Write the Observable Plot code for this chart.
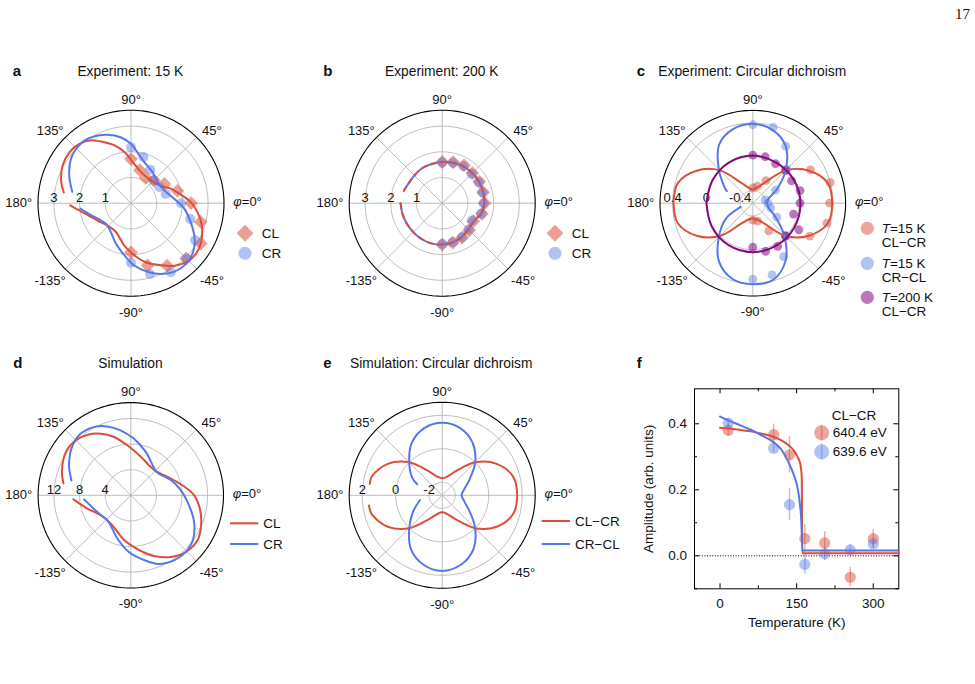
<!DOCTYPE html>
<html><head><meta charset="utf-8">
<script src="https://cdn.jsdelivr.net/npm/d3@7"></script>
<script src="https://cdn.jsdelivr.net/npm/@observablehq/plot@0.6"></script>
<style>
body{margin:0;background:#fff;}
#page{position:relative;width:975px;height:684px;overflow:hidden;background:#fff;}
</style></head>
<body><div id="page"></div>
<script>
// ---------------- colours ----------------
const RED = "#dc4e3a", BLUE = "#5577e8", PURPLE = "#84087f", GRID = "#b5b5b5";
const FONT = '"Liberation Sans", Arial, Helvetica, sans-serif';

// ---------------- panel a : Experiment 15 K ----------------
const angPts = [90,75,60,45,30,15,0,-15,-30,-45,-60,-75,-90];
const aCL = [1.72,1.33,1.14,1.26,1.50,1.87,2.34,2.81,3.14,3.04,2.81,2.51,1.91];
const aCR = [2.18,1.86,1.50,1.25,1.27,1.40,1.95,2.39,2.88,3.06,3.10,2.85,2.32];
const aFitCLAng = [-178,-173,-165,-152,-136,-117,-99,-86,-76,-64,-55,-47,-38,-29,-17,-8,1,8,20,30,49,72,88,97,106,116,122,131,140,151,163,171];
const aFitCLR   = [2.36,2.09,1.75,1.46,1.26,1.27,1.67,2.04,2.37,2.69,2.97,3.14,3.21,3.12,2.88,2.62,2.33,2.03,1.65,1.35,1.18,1.27,1.62,2.00,2.34,2.67,2.89,3.06,3.11,3.04,2.84,2.65];
const aFitCRAng = [-174,-167,-155,-140,-125,-110,-97,-87,-76,-67,-58,-48,-38,-29,-18,-6,6,21,38,55,72,83,90,99,109,116,127,135,144,156,169];
const aFitCRR   = [1.98,1.73,1.43,1.26,1.37,1.69,2.05,2.43,2.76,2.99,3.15,3.19,3.07,2.83,2.45,2.09,1.69,1.39,1.32,1.47,1.68,2.00,2.31,2.60,2.82,2.93,3.04,3.01,2.90,2.63,2.33];

// ---------------- panel b : Experiment 200 K ----------------
const bCL = [1.60,1.65,1.70,1.66,1.67,1.65,1.65,1.60,1.40,1.49,1.55,1.59,1.61];
const bCR = [1.58,1.62,1.66,1.62,1.64,1.62,1.61,1.57,1.34,1.45,1.53,1.57,1.59];
const bFitAng = [-180,-165,-150,-135,-120,-105,-90,-75,-60,-45,-35,-25,-15,0,15,30,45,60,75,90,105,120,135,150,162];
const bFitR   = [1.62,1.60,1.59,1.59,1.61,1.62,1.61,1.58,1.52,1.44,1.41,1.45,1.57,1.64,1.65,1.66,1.66,1.66,1.63,1.60,1.58,1.57,1.53,1.52,1.57];

// ---------------- panel c : Experiment circular dichroism ----------------
const cRedPts  = [-0.37,-0.34,-0.24,0.00,0.24,0.40,0.36,0.36,0.23,0.00,-0.17,-0.33,-0.35];
const cBluePts = [0.38,0.38,0.23,0.02,-0.24,-0.40,-0.37,-0.33,-0.22,0.00,0.18,0.33,0.35];
const cPurpPts = [0.02,0.02,-0.01,0.00,-0.02,0.03,0.01,-0.05,0.08,0.00,0.04,0.04,-0.03];
const cRedFitAng = [-180,-165,-150,-135,-120,-105,-90,-75,-60,-45,-30,-15,0,15,30,45,60,75,90,105,120,135,150,165,180];
const cRedFitR   = [0.39,0.37,0.22,0.00,-0.27,-0.35,-0.37,-0.35,-0.27,0.00,0.22,0.37,0.39,0.37,0.22,0.00,-0.27,-0.36,-0.39,-0.36,-0.27,0.00,0.22,0.37,0.39];
const cBlueFitAng = [-163,-150,-135,-120,-105,-90,-75,-60,-45,-30,-15,0,15,30,45,60,75,90,105,120,135,150,155];
const cBlueFitR   = [-0.40,-0.18,0.02,0.25,0.38,0.41,0.39,0.23,-0.03,-0.25,-0.36,-0.38,-0.36,-0.22,0.00,0.23,0.35,0.39,0.36,0.25,0.02,-0.16,-0.21];
const cPurpFitAng = [-180,-150,-120,-90,-60,-30,0,30,60,90,120,150,180];
const cPurpFitR   = [0.00,0.01,0.025,0.03,0.025,0.02,0.015,0.01,0.005,0.015,0.01,0.00,0.00];

// ---------------- panel d : Simulation ----------------
const dFitCLAng = [-176,-163,-146,-125,-98,-81,-69,-57,-46,-34,-24,-12,0,11,27,44,59,75,94,106,116,126,135,146,161,170];
const dFitCLR   = [8.98,7.08,5.64,5.42,7.10,8.69,10.15,11.48,12.34,12.57,12.0,11.08,9.9,8.2,6.4,5.42,5.49,6.19,7.83,9.48,10.7,11.65,12.15,12.2,11.38,10.68];
const dFitCRAng = [-175,-150,-133,-107,-92,-78,-68,-56,-46,-35,-23,-10,6,21,36,44,52,71,87,99,109,118,129,139,153,166];
const dFitCRR   = [7.32,5.72,5.34,7.09,8.86,10.37,11.56,12.2,12.34,11.9,10.74,9.25,7.85,6.68,5.6,5.42,5.7,7.17,8.87,10.28,11.38,12.1,12.4,12.0,10.83,9.56];

// ---------------- panel e : Simulation circular dichroism ----------------
const eRedAng = [-172,-165,-150,-135,-120,-105,-90,-75,-60,-45,-30,-15,0,15,30,45,60,75,90,105,120,135,150,165,171];
const eRedR   = [1.64,1.58,0.98,0.01,-1.10,-1.62,-1.76,-1.62,-1.10,0.01,0.98,1.60,1.70,1.60,0.98,0.01,-1.10,-1.62,-1.76,-1.62,-1.10,0.01,0.98,1.58,1.60];
const eBlueAng = [-168,-150,-135,-120,-105,-90,-75,-60,-45,-30,-15,0,15,30,45,60,75,90,105,120,135,150,156];
const eBlueR   = [-1.42,-0.75,0.01,0.95,1.52,1.74,1.52,0.95,0.01,-0.90,-1.42,-1.62,-1.42,-0.90,0.01,0.85,1.38,1.56,1.38,0.85,0.01,-0.72,-1.15];

// ---------------- panel f : Temperature dependence ----------------
const fT       = [16,105,136,166,205,255,300];
const fRed     = [0.380,0.367,0.306,0.052,0.039,-0.065,0.052];
const fRedErr  = [0.018,0.032,0.055,0.042,0.034,0.030,0.028];
const fBlue    = [0.402,0.326,0.155,-0.026,0.006,0.018,0.036];
const fBlueErr = [0.013,0.014,0.048,0.030,0.020,0.015,0.015];
const fRedFitT = [0,20,40,60,80,100,110,120,130,140,145,150,153,156,158,160,161,350];
const fRedFit  = [0.388,0.385,0.381,0.377,0.371,0.363,0.357,0.350,0.340,0.327,0.318,0.305,0.296,0.285,0.270,0.238,0.008,0.008];
const fBlueFitT = [0,20,40,60,80,100,110,120,125,130,135,140,145,150,153,155,157,159,160,161,350];
const fBlueFit  = [0.422,0.408,0.395,0.382,0.366,0.349,0.338,0.322,0.310,0.296,0.280,0.263,0.243,0.218,0.195,0.175,0.147,0.110,0.067,0.016,0.016];

// ---------------- helpers ----------------
const W = 975, H = 684;
const page = document.getElementById("page");
const rad = a => a * Math.PI / 180;
const zip = (angs, rs) => angs.map((a, i) => ({a, r: rs[i]}));
function mount(svg) {
  svg.style.position = "absolute"; svg.style.left = "0"; svg.style.top = "0";
  svg.style.background = "transparent"; svg.style.overflow = "visible"; svg.style.maxWidth = "none";
  page.appendChild(svg);
}

function polarPlot({cx, cy, R, rMin, rMax, ticks, tickLabels, layers}) {
  const n = v => (v - rMin) / (rMax - rMin);
  const X = (a, v) => n(v) * Math.cos(rad(a));
  const Y = (a, v) => n(v) * Math.sin(rad(a));
  const grid = ticks.flatMap(t => d3.range(0, 362, 2).map(a => ({t, a})));
  const rim = d3.range(0, 362, 2);
  const spokes = d3.range(0, 360, 45);
  const thetaMid = [{a:45,t:"45°"},{a:90,t:"90°"},{a:135,t:"135°"},{a:-135,t:"-135°"},{a:-90,t:"-90°"},{a:-45,t:"-45°"}];
  return Plot.plot({
    width: W, height: H, margin: 0,
    style: {fontFamily: FONT, fontSize: "13px", color: "#111", background: "transparent"},
    x: {domain: [-1, 1], range: [cx - R, cx + R], axis: null, label: null},
    y: {domain: [-1, 1], range: [cy + R, cy - R], axis: null, label: null},
    marks: [
      Plot.link(spokes, {x1: () => 0, y1: () => 0, x2: a => Math.cos(rad(a)), y2: a => Math.sin(rad(a)), stroke: GRID, strokeWidth: 0.9}),
      Plot.line(grid, {x: d => X(d.a, d.t), y: d => Y(d.a, d.t), z: "t", stroke: GRID, strokeWidth: 0.9}),
      Plot.line(rim, {x: a => Math.cos(rad(a)), y: a => Math.sin(rad(a)), stroke: "#000", strokeWidth: 1.1}),
      Plot.text(ticks, {x: t => -n(t), y: () => 0, text: (t, i) => tickLabels[i], lineAnchor: "bottom", dy: -1, fontSize: 13, fill: "#111"}),
      Plot.text(thetaMid, {x: d => 1.23 * Math.cos(rad(d.a)), y: d => 1.145 * Math.sin(rad(d.a)), text: "t", dy: 2.7, fontSize: 13, fill: "#111"}),
      Plot.text([{t: "φ=0°"}], {x: () => 1.10, y: () => 0, text: "t", textAnchor: "start", dy: -1, fontSize: 13, fill: "#111"}),
      Plot.text([{t: "180°"}], {x: () => -1.063, y: () => 0, text: "t", textAnchor: "end", fontSize: 13, fill: "#111"}),
      ...layers(X, Y)
    ]
  });
}
const fitLine = (data, X, Y, stroke, extra = {}) =>
  Plot.line(data, {x: d => X(d.a, d.r), y: d => Y(d.a, d.r), stroke, strokeWidth: 2, curve: "catmull-rom", ...extra});
const ptDots = (data, X, Y, fill, extra = {}) =>
  Plot.dot(data, {x: d => X(d.a, d.r), y: d => Y(d.a, d.r), fill, fillOpacity: 0.5, stroke: "none", ...extra});

// ---------------- panel a ----------------
mount(polarPlot({cx: 130.5, cy: 202.7, R: 93, rMin: 0, rMax: 3.62, ticks: [1,2,3], tickLabels: ["1","2","3"],
  layers: (X, Y) => [
    ptDots(zip(angPts, aCL), X, Y, RED, {symbol: "diamond2", r: 6.2, fillOpacity: 0.55}),
    ptDots(zip(angPts, aCR), X, Y, BLUE, {r: 5, fillOpacity: 0.45}),
    fitLine(zip(aFitCLAng, aFitCLR), X, Y, RED),
    fitLine(zip(aFitCRAng, aFitCRR), X, Y, BLUE)
  ]}));

// ---------------- panel b ----------------
mount(polarPlot({cx: 441.7, cy: 202.7, R: 93, rMin: 0, rMax: 3.62, ticks: [1,2,3], tickLabels: ["1","2","3"],
  layers: (X, Y) => [
    ptDots(zip(angPts, bCL), X, Y, RED, {symbol: "diamond2", r: 6.2, fillOpacity: 0.55}),
    ptDots(zip(angPts, bCR), X, Y, BLUE, {r: 5, fillOpacity: 0.45}),
    fitLine(zip(bFitAng, bFitR), X, Y, BLUE),
    fitLine(zip(bFitAng, bFitR), X, Y, RED, {strokeDasharray: "5,5"})
  ]}));

// ---------------- panel c ----------------
mount(polarPlot({cx: 752.3, cy: 202.7, R: 92.8, rMin: -0.55, rMax: 0.55, ticks: [-0.4,0,0.4], tickLabels: ["-0.4","0","0.4"],
  layers: (X, Y) => [
    ptDots(zip(angPts, cRedPts), X, Y, RED, {r: 4.4}),
    ptDots(zip(angPts, cBluePts), X, Y, BLUE, {r: 4.4, fillOpacity: 0.45}),
    ptDots(zip(angPts, cPurpPts), X, Y, PURPLE, {r: 4.4, fillOpacity: 0.55}),
    fitLine(zip(cRedFitAng, cRedFitR), X, Y, RED),
    fitLine(zip(cBlueFitAng, cBlueFitR), X, Y, BLUE),
    fitLine(zip(cPurpFitAng, cPurpFitR), X, Y, PURPLE)
  ]}));

// ---------------- panel d ----------------
mount(polarPlot({cx: 130.3, cy: 494.8, R: 92.7, rMin: 0, rMax: 14.48, ticks: [4,8,12], tickLabels: ["4","8","12"],
  layers: (X, Y) => [
    fitLine(zip(dFitCLAng, dFitCLR), X, Y, RED),
    fitLine(zip(dFitCRAng, dFitCRR), X, Y, BLUE)
  ]}));

// ---------------- panel e ----------------
mount(polarPlot({cx: 441.7, cy: 494.8, R: 93, rMin: -2.78, rMax: 2.78, ticks: [-2,0,2], tickLabels: ["-2","0","2"],
  layers: (X, Y) => [
    fitLine(zip(eRedAng, eRedR), X, Y, RED),
    fitLine(zip(eBlueAng, eBlueR), X, Y, BLUE)
  ]}));

// ---------------- panel f ----------------
const fData = fT.map((t, i) => ({t, red: fRed[i], re: fRedErr[i], blue: fBlue[i], be: fBlueErr[i]}));
const fRedLine = fRedFitT.map((t, i) => ({t, v: fRedFit[i]}));
const fBlueLine = fBlueFitT.map((t, i) => ({t, v: fBlueFit[i]}));
const FL = 694, FR = 898.3, FT = 388.3, FB = 588.3, FH = FB - FT, FW = FR - FL;
mount(Plot.plot({
  width: W, height: H,
  marginLeft: FL, marginRight: W - FR, marginTop: FT, marginBottom: H - FB,
  style: {fontFamily: FONT, fontSize: "13.5px", color: "#111", background: "transparent"},
  x: {domain: [-50, 350], axis: null, label: null},
  y: {domain: [-0.1, 0.506], axis: null, label: null},
  marks: [
    Plot.ruleY([0], {stroke: "#000", strokeDasharray: "1,1.6", strokeWidth: 1}),
    Plot.ruleX([0,150,300], {insetTop: FH - 5, stroke: "#000"}),
    Plot.ruleX([75,225], {insetTop: FH - 3, stroke: "#000"}),
    Plot.ruleX([0,150,300], {insetBottom: FH - 5, stroke: "#000"}),
    Plot.ruleX([75,225], {insetBottom: FH - 3, stroke: "#000"}),
    Plot.ruleY([0,0.2,0.4], {insetRight: FW - 5, stroke: "#000"}),
    Plot.ruleY([-0.1,0.1,0.3], {insetRight: FW - 3, stroke: "#000"}),
    Plot.ruleY([0,0.2,0.4], {insetLeft: FW - 5, stroke: "#000"}),
    Plot.ruleY([-0.1,0.1,0.3], {insetLeft: FW - 3, stroke: "#000"}),
    Plot.frame({stroke: "#000", strokeWidth: 1}),
    Plot.axisX({ticks: [0,150,300], tickSize: 0, tickPadding: 10, fontSize: 13.5, tickFormat: d3.format("d"), label: null}),
    Plot.axisY({ticks: [0,0.2,0.4], tickSize: 0, tickPadding: 7.5, fontSize: 13.5, tickFormat: d3.format(".1f"), label: null}),
    Plot.text(["Temperature (K)"], {text: d => d, frameAnchor: "bottom", dy: 33.4, textAnchor: "middle", lineAnchor: "middle", fontSize: 13.5, fill: "#111"}),
    Plot.text(["Amplitude (arb. units)"], {text: d => d, frameAnchor: "left", dx: -45.7, rotate: -90, textAnchor: "middle", lineAnchor: "middle", fontSize: 13.5, fill: "#111"}),
    Plot.ruleX(fData, {x: "t", y1: d => d.red - d.re, y2: d => d.red + d.re, stroke: RED, strokeOpacity: 0.45, strokeWidth: 1.5}),
    Plot.dot(fData, {x: "t", y: "red", r: 5.6, fill: RED, fillOpacity: 0.5, stroke: "none"}),
    Plot.ruleX(fData, {x: "t", y1: d => d.blue - d.be, y2: d => d.blue + d.be, stroke: BLUE, strokeOpacity: 0.45, strokeWidth: 1.5}),
    Plot.dot(fData, {x: "t", y: "blue", r: 5.6, fill: BLUE, fillOpacity: 0.45, stroke: "none"}),
    Plot.line(fRedLine, {x: "t", y: "v", stroke: RED, strokeWidth: 2, curve: "monotone-x"}),
    Plot.line(fBlueLine, {x: "t", y: "v", stroke: BLUE, strokeWidth: 2, curve: "monotone-x"})
  ]
}));

// italic phi
page.querySelectorAll("text").forEach(el => {
  if (el.textContent === "φ=0°") el.innerHTML = '<tspan font-style="italic">φ</tspan>=0°';
});

// ---------------- overlay: titles, legends, page number ----------------
const ov = d3.create("svg").attr("width", W).attr("height", H)
  .style("position", "absolute").style("left", "0").style("top", "0")
  .attr("font-family", FONT).attr("fill", "#111");
function txt(x, y, s, {size = 13.5, weight = null, anchor = "start", base = "central", family = FONT} = {}) {
  return ov.append("text").attr("x", x).attr("y", y).attr("font-size", size).attr("font-weight", weight)
    .attr("text-anchor", anchor).attr("dominant-baseline", base).attr("font-family", family).text(s);
}
const titles = [
  ["a", 12.7, 75.7], ["b", 323.3, 75.7], ["c", 636.7, 75.7],
  ["d", 13.3, 367.7], ["e", 323.3, 367.7], ["f", 636.7, 367.7]
];
titles.forEach(([s, x, y]) => txt(x, y, s, {size: 15, weight: "bold", base: "alphabetic"}));
txt(130.3, 75.7, "Experiment: 15 K", {size: 13.8, anchor: "middle", base: "alphabetic"});
txt(441.7, 75.7, "Experiment: 200 K", {size: 13.8, anchor: "middle", base: "alphabetic"});
txt(658.3, 75.7, "Experiment: Circular dichroism", {size: 13.8, base: "alphabetic"});
txt(130.5, 367.7, "Simulation", {size: 13.8, anchor: "middle", base: "alphabetic"});
txt(350, 367.7, "Simulation: Circular dichroism", {size: 13.8, base: "alphabetic"});
txt(970, 18.5, "17", {size: 15, anchor: "end", base: "alphabetic", family: '"Liberation Serif", "DejaVu Serif", serif'});

// legends a, b
[[245, 261.7], [555, 571.7]].forEach(([mx, tx]) => {
  ov.append("path").attr("d", d3.symbol(d3.symbolDiamond2, Math.PI * 7.6 * 7.6)()).attr("transform", `translate(${mx},233.3)`)
    .attr("fill", RED).attr("fill-opacity", 0.55);
  ov.append("circle").attr("cx", mx).attr("cy", 253.3).attr("r", 6.5).attr("fill", BLUE).attr("fill-opacity", 0.45);
  txt(tx, 233.3, "CL"); txt(tx, 253.3, "CR");
});
// legend c
[[228.3, RED, 0.5, "15 K", "CL−CR"], [263.3, BLUE, 0.45, "15 K", "CR−CL"], [297.3, PURPLE, 0.55, "200 K", "CL−CR"]].forEach(([y, c, op, t, s]) => {
  ov.append("circle").attr("cx", 867.3).attr("cy", y).attr("r", 6.6).attr("fill", c).attr("fill-opacity", op);
  const t1 = txt(881.7, y, "");
  t1.append("tspan").attr("font-style", "italic").text("T");
  t1.append("tspan").text("=" + t);
  txt(881.7, y + 14.4, s);
});
// legends d, e
[[230, 258.3, 263.3, 523.3, 544, "CL", "CR"], [541.7, 570, 575, 521, 544, "CL−CR", "CR−CL"]].forEach(([x1, x2, tx, y1, y2, s1, s2]) => {
  ov.append("line").attr("x1", x1).attr("x2", x2).attr("y1", y1).attr("y2", y1).attr("stroke", RED).attr("stroke-width", 2);
  ov.append("line").attr("x1", x1).attr("x2", x2).attr("y1", y2).attr("y2", y2).attr("stroke", BLUE).attr("stroke-width", 2);
  txt(tx, y1, s1); txt(tx, y2, s2);
});
// legend f
txt(831.7, 415, "CL−CR");
[[432.7, RED, 0.5, "640.4 eV"], [451.7, BLUE, 0.45, "639.6 eV"]].forEach(([y, c, op, s]) => {
  ov.append("line").attr("x1", 821.7).attr("x2", 821.7).attr("y1", y - 8).attr("y2", y + 8).attr("stroke", c).attr("stroke-opacity", 0.45).attr("stroke-width", 1.5);
  ov.append("circle").attr("cx", 821.7).attr("cy", y).attr("r", 7.5).attr("fill", c).attr("fill-opacity", op);
  txt(832.7, y, s);
});
page.appendChild(ov.node());
</script>
</body></html>
